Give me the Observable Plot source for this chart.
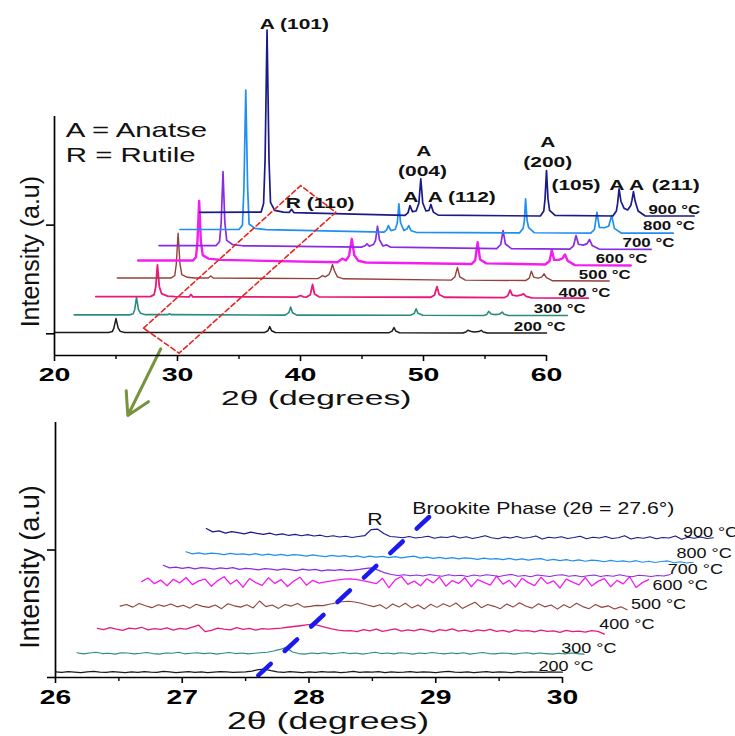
<!DOCTYPE html>
<html><head><meta charset="utf-8">
<script src="https://cdn.jsdelivr.net/npm/d3@7"></script>
<script src="https://cdn.jsdelivr.net/npm/@observablehq/plot@0.6"></script>
<style>
body{margin:0;background:#fff;}
#chart{width:735px;height:736px;overflow:hidden;background:#fff;}
#chart svg{display:block;}
</style></head><body><div id="chart"></div>
<script>
const FONT = "'Liberation Sans', Arial, sans-serif";
const temps = ["200 °C","300 °C","400 °C","500 °C","600 °C","700 °C","800 °C","900 °C"];
const colors = ["#1a1a1a","#2a8c7e","#e8197b","#93413a","#f51cf0","#8a2be2","#1f8ff0","#1a1a8a"];

// ---------- TOP PANEL: displayed 2θ (offset waterfall) vs intensity (a.u.) ----------
const top200 = [[20.0,106],[24.4,106],[24.7,110],[24.82,125],[25.0,170],[25.18,126],[25.35,111],[25.7,106],
 [37.1,106],[37.35,114],[37.5,133],[37.65,114],[37.95,106],
 [47.2,105],[47.45,112],[47.6,129],[47.75,112],[48.05,105],
 [53.2,104],[53.45,108],[53.6,116],[53.9,110],[54.15,108],[54.5,110],[54.7,116],[54.85,108],[55.2,104],[60.0,103]];
const top300 = [[21.6,187],[26.1,187],[26.4,192],[26.52,211],[26.67,268],[26.82,212],[27.0,194],[27.4,188],
 [29.2,188],[29.35,192],[29.5,188],
 [38.75,186],[39.05,197],[39.2,223],[39.35,197],[39.7,186],
 [48.95,185],[49.25,194],[49.4,215],[49.55,194],[49.95,185],
 [54.9,184],[55.15,189],[55.3,203],[55.5,191],[55.85,188],[56.2,191],[56.4,200],[56.55,190],[56.9,184],[61.7,184]];
const top400 = [[23.36,271],[27.8,271],[28.1,280],[28.23,315],[28.37,417],[28.52,318],[28.7,285],[29.2,273],[29.8,271],
 [30.95,270],[31.1,281],[31.25,270],[39.7,269],[40.0,276],[40.25,270],
 [40.5,269],[40.8,280],[40.98,327],[41.14,283],[41.5,270],
 [50.6,268],[50.9,279],[51.1,317],[51.27,281],[51.7,268],
 [56.55,266],[56.85,275],[57.04,301],[57.22,278],[57.6,274],[57.95,279],[58.13,284],[58.35,272],[58.8,265],[63.4,264]];
const top500 = [[25.11,357],[29.5,357],[29.78,368],[29.9,420],[30.05,563],[30.2,422],[30.35,372],[30.8,360],[31.4,357],
 [32.5,357],[32.7,366],[32.9,357],
 [41.4,354],[41.65,362],[41.8,368],[42.0,362],[42.3,372],[42.45,390],[42.6,419],[42.75,391],[43.0,362],[43.5,353],
 [52.25,347],[52.55,361],[52.76,405],[52.95,362],[53.4,347],
 [58.3,345],[58.6,356],[58.77,388],[58.95,361],[59.3,356],[59.6,361],[59.8,376],[60.0,358],[60.5,344],[65.1,343]];
const top600 = [[26.8,437],[31.25,437],[31.5,452],[31.62,520],[31.76,711],[31.9,525],[32.05,462],[32.5,446],[33.5,440],
 [43.0,429],[43.4,446],[43.7,438],[43.95,460],[44.17,537],[44.37,462],[44.7,436],[45.3,428],
 [53.9,421],[54.2,438],[54.4,521],[54.6,442],[55.1,424],
 [59.9,419],[60.25,435],[60.43,485],[60.62,440],[61.0,440],[61.3,447],[61.5,465],[61.72,436],[62.3,416],[66.85,414]];
const top700 = [[28.5,506],[33.15,506],[33.42,525],[33.55,610],[33.7,846],[33.85,612],[34.0,530],[34.5,510],[35.3,505],
 [44.95,499],[45.25,505],[45.4,514],[45.6,503],[45.95,512],[46.1,530],[46.26,595],[46.42,532],[46.7,504],[47.0,509],[47.3,499],
 [55.95,492],[56.28,511],[56.47,575],[56.66,513],[57.15,492],
 [61.9,490],[62.2,505],[62.4,552],[62.6,512],[63.0,508],[63.3,515],[63.5,534],[63.72,506],[64.3,489],[68.5,488]];
const top800 = [[30.2,580],[35.0,580],[35.28,600],[35.4,770],[35.55,1222],[35.7,775],[35.82,605],[36.3,585],[37.2,579],
 [46.8,568],[47.0,578],[47.15,598],[47.35,575],[47.7,580],[47.87,610],[48.0,698],[48.13,612],[48.4,576],[48.65,582],[48.8,598],[49.0,574],[49.4,567],
 [57.8,564],[58.1,585],[58.2,620],[58.3,721],[58.42,622],[58.55,588],[59.0,565],
 [63.6,563],[63.9,580],[64.1,659],[64.3,590],[64.7,588],[65.05,595],[65.3,644],[65.52,585],[66.1,563],[70.3,563]];
const top900 = [[31.8,659],[36.8,660],[37.0,700],[37.12,900],[37.28,1498],[37.44,900],[37.56,705],[37.9,668],[38.6,660],
 [39.1,659],[39.27,673],[39.45,658],
 [48.5,645],[48.75,658],[48.9,690],[49.1,662],[49.4,665],[49.62,700],[49.78,813],[49.94,702],[50.2,665],[50.45,668],[50.6,695],[50.8,660],[51.2,646],
 [59.5,642],[59.78,665],[59.88,720],[60.0,851],[60.12,722],[60.25,668],[60.7,645],
 [65.4,642],[65.68,665],[65.78,700],[65.9,767],[66.05,710],[66.3,678],[66.6,670],[66.85,690],[66.95,715],[67.07,754],[67.2,712],[67.45,665],[68.0,643],[72.0,642]];
const topTraces = [top200, top300, top400, top500, top600, top700, top800, top900];
const topWidths = [1.5, 1.6, 1.8, 1.4, 2.4, 1.7, 1.7, 1.7];

const topLabelX = [57.34, 58.97, 60.98, 62.63, 64.0, 66.18, 67.85, 68.29];
const topLabelY = [130, 214, 288, 369, 444, 518, 598, 671];

const noteStartText = ["A (101)", "R (110)", "A (112)", "(105)", "(211)"];
const noteStartX = [36.69, 38.8, 50.35, 60.4, 68.56];
const noteStartY = [1526, 703, 730, 784, 784];
const noteMidText = ["A", "(004)", "A", "A", "(200)", "A", "A"];
const noteMidX = [50.02, 49.92, 48.97, 60.1, 60.1, 65.71, 67.33];
const noteMidY = [942, 850, 730, 983, 888, 784, 784];
const legendText = ["A = Anatse", "R = Rutile"];
const legendX = [20.92, 20.92];
const legendY = [1035, 920];

const zoomBox = [[27.24,126],[40.02,782],[42.87,659],[30.13,10.6],[27.24,126]];
const arrowSeg = [[28.64, 31, 25.96, -276]];
const topXTicks = [20, 30, 40, 50, 60];
const topXMinor = [25, 35, 45, 55];
const topYTicks = [100, 600];

// ---------- BOTTOM PANEL: 26–30° zoom, scans with 0.05° step ----------
const botStart = [26.00, 26.17, 26.33, 26.51, 26.68, 26.85, 27.03, 27.19];
const botStep = 0.05;
const bot200 = [22,20,23,21,19,22,24,21,20,23, 21,19,22,20,23,21,20,24,22,19, 21,23,20,22,19,21,23,22,20,21, 22,25,31,33,27,22,20,23,21,19, 22,20,23,21,22,19,21,24,20,22, 21,23,19,22,20,21,23,20,22,21, 19,22,24,21,20,22,19,21,23,20, 22,21,19,23,20,22,21,20,22,21, 21];
const bot300 = [97,93,96,99,94,95,92,97,96,93, 95,98,94,92,96,95,99,93,95,97, 94,96,92,95,98,94,96,93,95,97, 99,104,110,118,100,94,92,96,94,97, 93,95,98,94,96,92,95,99,94,96, 93,97,95,92,96,94,98,95,93,96, 94,97,92,95,98,94,93,96,95,92, 95,97,93,96,94,92,95,93,96,94, 92];
const bot400 = [193,188,196,190,185,194,191,197,187,192, 189,195,186,193,190,198,205,180,185,194, 190,187,196,189,193,186,192,190,192,194, 197,200,203,206,209,203,197,191,186,183, 184,180,188,183,190,181,186,191,182,187, 183,190,185,179,188,184,191,182,186,180, 187,183,189,181,185,178,187,182,184,179, 186,181,183,177,185,180,182,178,184,181, 170];
const bot500 = [280,286,276,290,281,274,285,279,288,277, 283,272,287,279,275,284,270,289,281,276, 285,273,300,278,284,271,286,280,290,276, 279,283,282,287,292,297,299,296,291,284, 278,285,270,288,276,291,273,284,269,287, 275,289,278,292,271,283,295,274,286,279, 270,288,276,293,280,272,289,277,284,268, 285,274,291,278,270,286,275,281,269,277, 266];
const bot600 = [376,390,368,382,360,385,371,392,364,379, 386,358,380,395,366,383,354,388,372,361, 391,369,384,357,378,393,362,381,370,375, 379,383,386,387,384,379,374,368,389,352, 383,396,365,378,360,387,371,394,358,380, 369,391,356,384,373,362,398,366,381,355, 389,372,360,393,368,379,351,386,374,363, 392,359,377,388,356,381,367,395,353,372, 384];
const bot700 = [440,430,433,428,432,426,431,429,425,430, 427,431,424,428,426,422,427,425,421,426, 423,419,425,421,424,418,422,420,423,419, 421,424,428,430,420,410,404,400,403,399, 402,398,404,400,397,403,399,401,396,402, 398,403,400,396,401,404,397,400,395,402, 399,396,401,403,397,400,395,399,402,396, 400,397,403,398,395,401,399,396,400,398, 404];
const bot800 = [493,485,489,484,488,486,482,487,483,485, 481,486,480,484,479,483,478,482,480,476, 481,477,474,479,475,478,473,477,471,476, 472,475,470,474,469,473,476,468,472,467, 471,466,470,465,469,467,463,468,464,466, 462,467,461,465,460,464,466,459,463,458, 462,457,461,456,460,458,454,459,455,457, 453,458,452,456,451,455,457,450,454,449, 452];
const bot900 = [584,571,575,566,572,568,563,570,565,561, 566,559,563,557,561,556,560,555,558,552, 556,551,554,549,553,556,580,582,565,553, 551,548,553,547,550,554,546,551,549,555, 547,552,545,550,556,548,544,551,547,553, 546,549,555,543,550,547,552,545,549,554, 544,550,547,553,545,548,556,543,549,546, 552,544,549,547,555,542,550,546,551,545, 548];
const botTraces = [bot200, bot300, bot400, bot500, bot600, bot700, bot800, bot900];
const botWidths = [1.2, 1.2, 1.3, 1.1, 1.3, 1.2, 1.2, 1.2];

const botLabelX = [29.81, 29.99, 30.29, 30.54, 30.71, 30.83, 30.90, 30.95];
const botLabelY = [46, 114, 210, 288, 363, 423, 488, 569];
const brookiteLine = [[27.60, 8], [28.96, 635]];
const botXTicks = [26, 27, 28, 29, 30];
const botXMinor = [26.5, 27.5, 28.5, 29.5];
const botYTicks = [0, 500];

// ---------- helpers: widen text along its own direction ----------
function stretch(svg, pick) {
  svg.querySelectorAll("text").forEach(t => {
    const txt = t.textContent;
    if (!txt) return;
    if (/^[\d.]+$/.test(txt)) t.style.fontWeight = "bold";
    const s = pick(txt);
    if (!s || s === 1) return;
    const tr = t.getAttribute("transform") || "";
    const x = parseFloat(t.getAttribute("x")) || 0;
    t.setAttribute("transform", `${tr} translate(${x},0) scale(${s},1) translate(${-x},0)`.trim());
  });
}

const topPlot = Plot.plot({
  width: 735, height: 420,
  marginLeft: 54, marginRight: 189, marginTop: 116, marginBottom: 65,
  x: {domain: [20, 60]},
  y: {domain: [0, 1100]},
  style: {fontFamily: FONT, background: "white", color: "black", overflow: "visible"},
  marks: [
    ...topTraces.map((tr, i) => Plot.line(tr, {x: d => d[0], y: d => d[1], stroke: colors[i], strokeWidth: topWidths[i]})),
    Plot.line(zoomBox, {x: d => d[0], y: d => d[1], stroke: "#e8251f", strokeWidth: 1.6, strokeDasharray: "5,3"}),
    Plot.arrow(arrowSeg, {x1: d => d[0], y1: d => d[1], x2: d => d[2], y2: d => d[3], stroke: "#77933c", strokeWidth: 3, headLength: 13}),
    Plot.ruleX([20], {y1: 0, y2: 1100, stroke: "black", strokeWidth: 1.7}),
    Plot.ruleY([0], {x1: 20, x2: 60, stroke: "black", strokeWidth: 1.7}),
    Plot.axisX({ticks: topXTicks, tickSize: 6, tickPadding: 6, tickFormat: d => String(d), fontSize: 19, fontWeight: "bold", label: null, strokeWidth: 1.6}),
    Plot.axisX({ticks: topXMinor, tickSize: 4, tickFormat: () => "", label: null, strokeWidth: 1.4}),
    Plot.axisY({ticks: topYTicks, tickSize: 8, tickFormat: () => "", label: null, strokeWidth: 1.6}),
    Plot.text(topLabelX, {x: d => d, y: (d, i) => topLabelY[i], text: (d, i) => temps[i], textAnchor: "start", fontSize: 13, fontWeight: "bold", fill: "#111"}),
    Plot.text(noteStartText, {x: (d, i) => noteStartX[i], y: (d, i) => noteStartY[i], text: d => d, textAnchor: "start", fontSize: 15, fontWeight: "bold", fill: "#111"}),
    Plot.text(noteMidText, {x: (d, i) => noteMidX[i], y: (d, i) => noteMidY[i], text: d => d, textAnchor: "middle", fontSize: 15, fontWeight: "bold", fill: "#111"}),
    Plot.text(legendText, {x: (d, i) => legendX[i], y: (d, i) => legendY[i], text: d => d, textAnchor: "start", fontSize: 21, fill: "#111"}),
    Plot.text(["2θ (degrees)"], {x: 41.28, y: -195, text: d => d, fontSize: 21, fill: "#111"}),
    Plot.text(["Intensity (a.u)"], {x: 18.07, y: 478, text: d => d, rotate: -90, fontSize: 25, fill: "#111"})
  ]
});

const botPlot = Plot.plot({
  width: 735, height: 316,
  marginLeft: 55, marginRight: 173, marginTop: 2, marginBottom: 59,
  x: {domain: [26, 30]},
  y: {domain: [0, 1000]},
  style: {fontFamily: FONT, background: "white", color: "black", overflow: "visible"},
  marks: [
    ...botTraces.map((tr, i) => Plot.line(tr, {x: (d, j) => botStart[i] + j * botStep, y: d => d, stroke: colors[i], strokeWidth: botWidths[i]})),
    Plot.line(brookiteLine, {x: d => d[0], y: d => d[1], stroke: "#1a1af0", strokeWidth: 4.5, strokeDasharray: "17,19"}),
    Plot.ruleX([26], {y1: 0, y2: 1000, stroke: "black", strokeWidth: 1.7}),
    Plot.ruleY([0], {x1: 26, x2: 30, stroke: "black", strokeWidth: 1.7}),
    Plot.axisX({ticks: botXTicks, tickSize: 6, tickPadding: 7, tickFormat: d => String(d), fontSize: 19.5, fontWeight: "bold", label: null, strokeWidth: 1.6}),
    Plot.axisX({ticks: botXMinor, tickSize: 4, tickFormat: () => "", label: null, strokeWidth: 1.4}),
    Plot.axisY({ticks: botYTicks, tickSize: 8, tickFormat: () => "", label: null, strokeWidth: 1.6}),
    Plot.text(botLabelX, {x: d => d, y: (d, i) => botLabelY[i], text: (d, i) => temps[i], textAnchor: "start", fontSize: 15, fill: "#111"}),
    Plot.text(["R"], {x: 28.52, y: 620, text: d => d, fontSize: 17, fill: "#111"}),
    Plot.text(["Brookite Phase (2θ = 27.6°)"], {x: 28.815, y: 662, text: d => d, textAnchor: "start", fontSize: 16, fill: "#111"}),
    Plot.text(["2θ (degrees)"], {x: 28.15, y: -172, text: d => d, fontSize: 23, fill: "#111"}),
    Plot.text(["Intensity (a.u)"], {x: 25.80, y: 433, text: d => d, rotate: -90, fontSize: 27, fill: "#111"})
  ]
});

stretch(topPlot, t => {
  if (/^\d+$/.test(t)) return 1.5;
  if (t.startsWith("2θ")) return 1.6;
  if (t.startsWith("Intensity")) return 1;
  if (t.includes("°C")) return 1.3;
  return 1.4;
});
stretch(botPlot, t => {
  if (/^\d+$/.test(t)) return 1.45;
  if (t.startsWith("2θ")) return 1.55;
  if (t.startsWith("Intensity")) return 1;
  if (t.includes("°C")) return 1.2;
  if (t.startsWith("Brookite")) return 1.33;
  return 1.25;
});

const root = document.getElementById("chart");
root.appendChild(topPlot);
root.appendChild(botPlot);
</script></body></html>
